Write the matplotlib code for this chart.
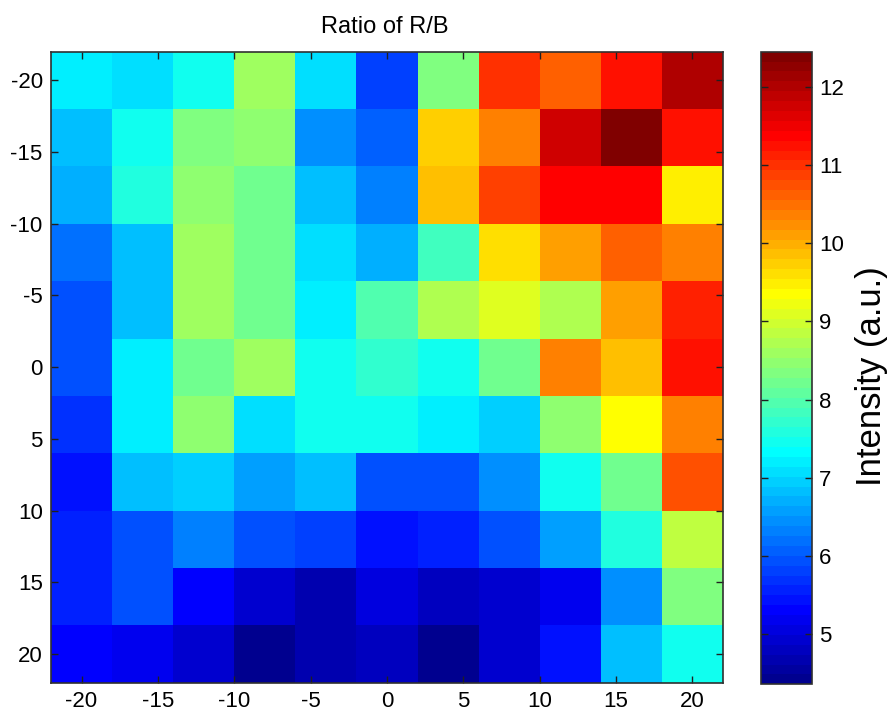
import numpy as np
import matplotlib
matplotlib.use("Agg")
import matplotlib.pyplot as plt
from matplotlib.colors import ListedColormap

plt.rcParams['font.family'] = ['Liberation Sans', 'DejaVu Sans']

x_pos = [-20, -16, -12, -8, -4, 0, 4, 8, 12, 16, 20]
y_pos = [-20, -16, -12, -8, -4, 0, 4, 8, 12, 16, 20]

row_m20 = [7.21, 7.10, 7.51, 8.59, 7.11, 5.82, 8.34, 10.99, 10.60, 11.30, 12.00]
row_m16 = [6.83, 7.40, 8.34, 8.50, 6.40, 6.07, 9.79, 10.42, 11.74, 12.45, 11.30]
row_m12 = [6.65, 7.58, 8.46, 8.21, 6.83, 6.26, 9.91, 10.92, 11.40, 11.40, 9.54]
row_m8 = [6.20, 6.83, 8.59, 8.21, 7.11, 6.70, 7.83, 9.66, 10.16, 10.67, 10.42]
row_m4 = [6.00, 6.83, 8.59, 8.21, 7.20, 7.96, 8.72, 9.09, 8.72, 10.16, 11.17]
row_0 = [5.94, 7.20, 8.21, 8.59, 7.40, 7.70, 7.45, 8.21, 10.42, 9.91, 11.30]
row_4 = [5.69, 7.25, 8.46, 7.11, 7.40, 7.45, 7.25, 6.96, 8.46, 9.35, 10.35]
row_8 = [5.44, 6.77, 6.96, 6.52, 6.77, 5.94, 5.94, 6.40, 7.45, 8.21, 10.80]
row_12 = [5.52, 5.94, 6.26, 5.94, 5.82, 5.38, 5.52, 6.00, 6.52, 7.58, 8.84]
row_16 = [5.57, 5.94, 5.37, 4.94, 4.62, 5.00, 4.81, 4.87, 5.19, 6.40, 8.34]
row_20 = [5.25, 5.14, 4.87, 4.36, 4.68, 4.75, 4.40, 4.87, 5.44, 6.83, 7.45]

x_ticks = [-20, -15, -10, -5, 0, 5, 10, 15, 20]
x_ticklabels = ['-20', '-15', '-10', '-5', '0', '5', '10', '15', '20']
y_ticks = [-20, -15, -10, -5, 0, 5, 10, 15, 20]
y_ticklabels = ['-20', '-15', '-10', '-5', '0', '5', '10', '15', '20']
cbar_ticks = [5, 6, 7, 8, 9, 10, 11, 12]
vmin, vmax = 4.36, 12.45

title = 'Ratio of R/B'
cbar_label = 'Intensity (a.u.)'


def matlab_jet(m=64):
    n = int(np.ceil(m / 4))
    u = np.concatenate([np.arange(1, n + 1) / n, np.ones(n - 1), np.arange(n, 0, -1) / n])
    g = int(np.ceil(n / 2)) - (1 if m % 4 == 1 else 0) + np.arange(1, len(u) + 1)
    r = g + n
    b = g - n
    J = np.zeros((m, 3))
    mk = g <= m
    J[g[mk] - 1, 1] = u[mk]
    mk = r <= m
    J[r[mk] - 1, 0] = u[mk]
    mk = b >= 1
    J[b[mk] - 1, 2] = u[mk]
    return ListedColormap(J)


Z = np.array([row_m20, row_m16, row_m12, row_m8, row_m4, row_0,
              row_4, row_8, row_12, row_16, row_20])

fig = plt.figure(figsize=(8.92, 7.18), dpi=100)
ax = fig.add_axes([51 / 892, 1 - 682.7 / 718, 672 / 892, 631 / 718])
cax = fig.add_axes([761 / 892, 1 - 684.3 / 718, 51 / 892, (684.3 - 51.7) / 718])

mesh = ax.pcolormesh(x_pos, y_pos, Z, shading='nearest', cmap=matlab_jet(64),
                     vmin=vmin, vmax=vmax)
ax.set_xlim(-22, 22)
ax.set_ylim(22, -22)
ax.set_xticks(x_ticks)
ax.set_xticklabels(x_ticklabels)
ax.set_yticks(y_ticks)
ax.set_yticklabels(y_ticklabels)
ax.tick_params(direction='in', length=5, width=1, top=True, right=True,
               labelsize=16, pad=6, color='#202020')
for s in ax.spines.values():
    s.set_color('#303030')
    s.set_linewidth(1.2)

cb = fig.colorbar(mesh, cax=cax)
cb.set_ticks(cbar_ticks)
cb.ax.tick_params(direction='in', length=5, width=1, left=True, right=True,
                  labelsize=16, pad=5, color='#202020')
cb.outline.set_edgecolor('#303030')
cb.outline.set_linewidth(1.2)

fig.text(385 / 892, 1 - 33 / 718, title, ha='center', va='baseline', fontsize=17)
fig.text(872 / 892, 1 - 376 / 718, cbar_label, ha='center', va='center',
         rotation=90, fontsize=25)

fig.savefig('out.png', dpi=100)
